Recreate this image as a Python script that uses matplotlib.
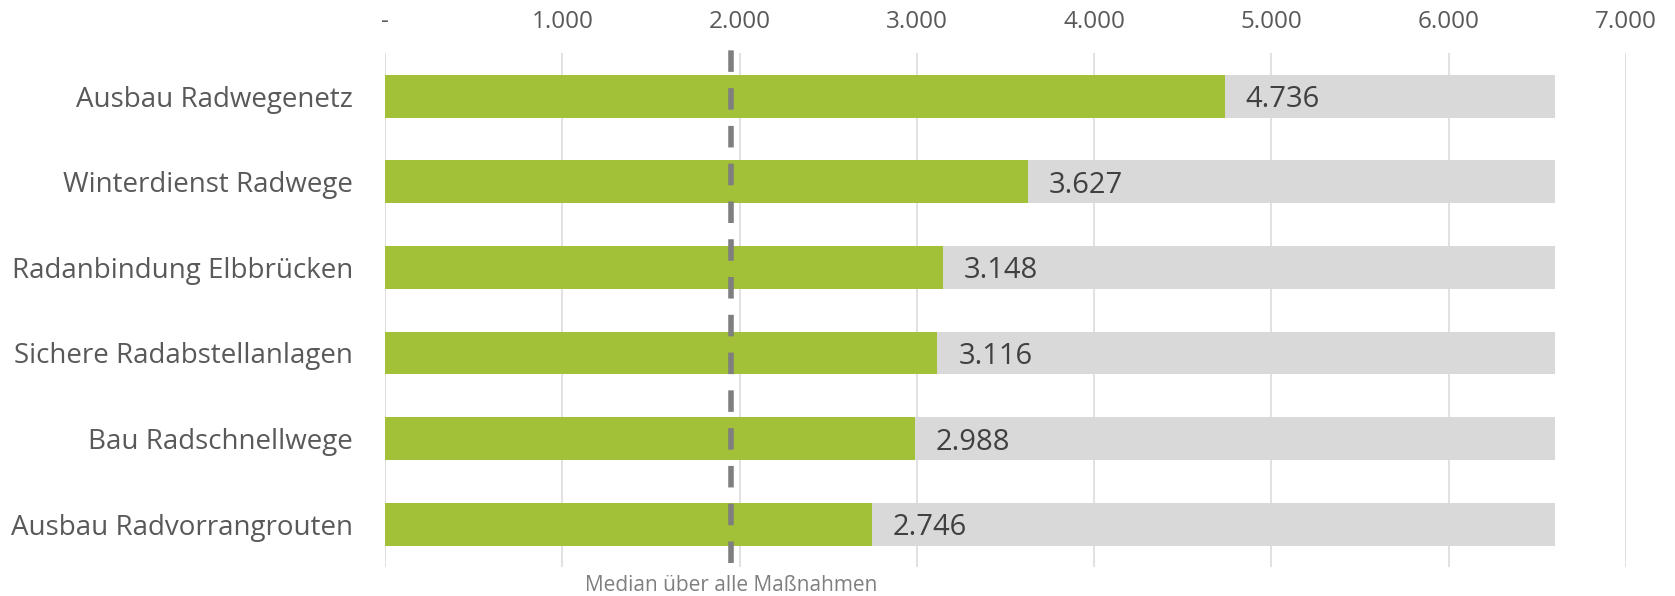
import matplotlib
matplotlib.use('Agg')
import matplotlib.pyplot as plt
from matplotlib.ticker import FuncFormatter

plt.rcParams['font.family'] = ['Open Sans', 'DejaVu Sans']
plt.rcParams['lines.scale_dashes'] = False

# data
massnahmen = ['Ausbau Radwegenetz', 'Winterdienst Radwege', 'Radanbindung Elbbrücken',
              'Sichere Radabstellanlagen', 'Bau Radschnellwege', 'Ausbau Radvorrangrouten']
stimmen = [4736, 3627, 3148, 3116, 2988, 2746]
gesamt = [6600] * 6
median = 1950
x_ticks = [0, 1000, 2000, 3000, 4000, 5000, 6000, 7000]

green = '#a2c038'
grey_bar = '#d9d9d9'

fig = plt.figure(figsize=(16.75, 5.96), dpi=100)
ax = fig.add_axes([0.2299, 0.0487, 0.7408, 0.8617])

pos = list(range(len(massnahmen)))
ax.barh(pos, gesamt, height=0.5, color=grey_bar, zorder=2)
ax.barh(pos, stimmen, height=0.5, color=green, zorder=3)

for p, v in zip(pos, stimmen):
    ax.annotate(f'{v:,}'.replace(',', '.'), xy=(v, p), xytext=(15, 0),
                textcoords='offset points', ha='left', va='center_baseline',
                fontsize=21, color='#404040', zorder=5)

# median line
ax.axvline(median, ymin=0.007, ymax=1.013, color='#7f7f7f', lw=4,
           dashes=(15.5, 11.7), clip_on=False, zorder=6)
ax.annotate('Median über alle Maßnahmen', xy=(median, 0), xycoords=ax.get_xaxis_transform(),
            xytext=(0, -13), textcoords='offset points', ha='center', va='center',
            fontsize=15, color='#7f7f7f', annotation_clip=False)

ax.set_xlim(0, 7000)
ax.set_ylim(-0.5, 5.5)
ax.invert_yaxis()
ax.set_yticks(pos)
ax.set_yticklabels(massnahmen)
ax.set_xticks(x_ticks)
ax.xaxis.set_major_formatter(FuncFormatter(lambda v, _: '-' if v == 0 else f'{v:,.0f}'.replace(',', '.')))
ax.xaxis.tick_top()
ax.tick_params(axis='x', length=0, pad=14, labelsize=17.5, labelcolor='#595959')
ax.tick_params(axis='y', length=0, pad=23, labelsize=20, labelcolor='#595959')

ax.grid(axis='x', color='#d9d9d9', lw=1.1)
ax.set_axisbelow(True)
for s in ax.spines.values():
    s.set_visible(False)

fig.savefig('out.png', dpi=100)
